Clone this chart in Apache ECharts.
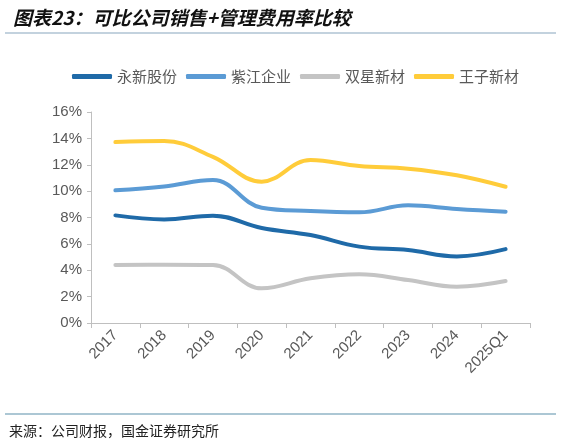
<!DOCTYPE html>
<html>
<head>
<meta charset="utf-8">
<script src="https://cdn.jsdelivr.net/npm/echarts@6/dist/echarts.min.js"></script>
<style>
  html, body { margin: 0; padding: 0; background: #fff; }
  #chart { width: 561px; height: 446px; }
</style>
</head>
<body>
<div id="chart"></div>
<script>
// 年份
let categories = ['2017', '2018', '2019', '2020', '2021', '2022', '2023', '2024', '2025Q1']
// 各公司销售+管理费用率（%）
let yongxin = [8.16, 7.85, 8.14, 7.2, 6.67, 5.79, 5.53, 5.05, 5.6]
let zijiang = [10.06, 10.35, 10.84, 8.74, 8.49, 8.39, 8.92, 8.64, 8.44]
let shuangxing = [4.4, 4.42, 4.4, 2.63, 3.39, 3.7, 3.26, 2.75, 3.18]
let wangzi = [13.72, 13.8, 12.6, 10.72, 12.36, 11.9, 11.7, 11.2, 10.33]

let seriesNames = ['永新股份', '紫江企业', '双星新材', '王子新材']
let seriesColors = ['#1f6aa8', '#5b9bd5', '#c4c4c4', '#ffcc3a']
let seriesValues = [yongxin, zijiang, shuangxing, wangzi]

let fontFamily = '"Noto Sans CJK SC", "Liberation Sans", sans-serif'

let el = document.querySelector('#chart')
let chartInstance = echarts.init(el)

let chartOption = {
  animation: false,
  backgroundColor: '#fff',
  title: {
    text: '图表23：可比公司销售+管理费用率比较',
    left: 8,
    top: 3,
    textStyle: {
      fontFamily: fontFamily,
      fontSize: 19,
      fontWeight: 'bold',
      fontStyle: 'italic',
      color: '#111'
    }
  },
  graphic: [
    {type: 'rect', shape: {x: 5, y: 32, width: 551, height: 2}, style: {fill: '#c3d2de'}},
    {type: 'rect', shape: {x: 5, y: 413.5, width: 551, height: 1}, style: {fill: '#5a8fa9'}},
    {
      type: 'text',
      left: 9,
      top: 424,
      style: {
        text: '来源：公司财报，国金证券研究所',
        font: '14px ' + fontFamily,
        fill: '#222'
      }
    }
  ],
  legend: {
    top: 64,
    left: 67,
    icon: 'roundRect',
    itemWidth: 40,
    itemHeight: 5,
    itemGap: 9,
    textStyle: {fontFamily: fontFamily, fontSize: 15, color: '#595959'},
    data: seriesNames
  },
  grid: {left: 91, right: 31, top: 112, bottom: 123},
  xAxis: {
    type: 'category',
    data: categories,
    boundaryGap: true,
    axisLine: {lineStyle: {color: '#bfbfbf', width: 1}},
    axisTick: {show: true, length: 5, lineStyle: {color: '#bfbfbf'}},
    axisLabel: {
      rotate: 45,
      margin: 10,
      fontFamily: '"Liberation Sans", Arial, sans-serif',
      fontSize: 15,
      color: '#595959'
    }
  },
  yAxis: {
    type: 'value',
    min: 0,
    max: 16,
    interval: 2,
    axisLine: {show: true, lineStyle: {color: '#bfbfbf', width: 1}},
    axisTick: {show: true, length: 4, lineStyle: {color: '#bfbfbf'}},
    splitLine: {show: false},
    axisLabel: {
      formatter: '{value}%',
      margin: 9,
      fontFamily: '"Liberation Sans", Arial, sans-serif',
      fontSize: 15,
      color: '#595959'
    }
  },
  series: seriesNames.map((name, i) => ({
    type: 'line',
    name: name,
    smooth: 0.4,
    symbol: 'none',
    data: seriesValues[i],
    lineStyle: {width: 4, color: seriesColors[i], cap: 'round'},
    itemStyle: {color: seriesColors[i]}
  }))
}

chartInstance.setOption(chartOption)
</script>
</body>
</html>
